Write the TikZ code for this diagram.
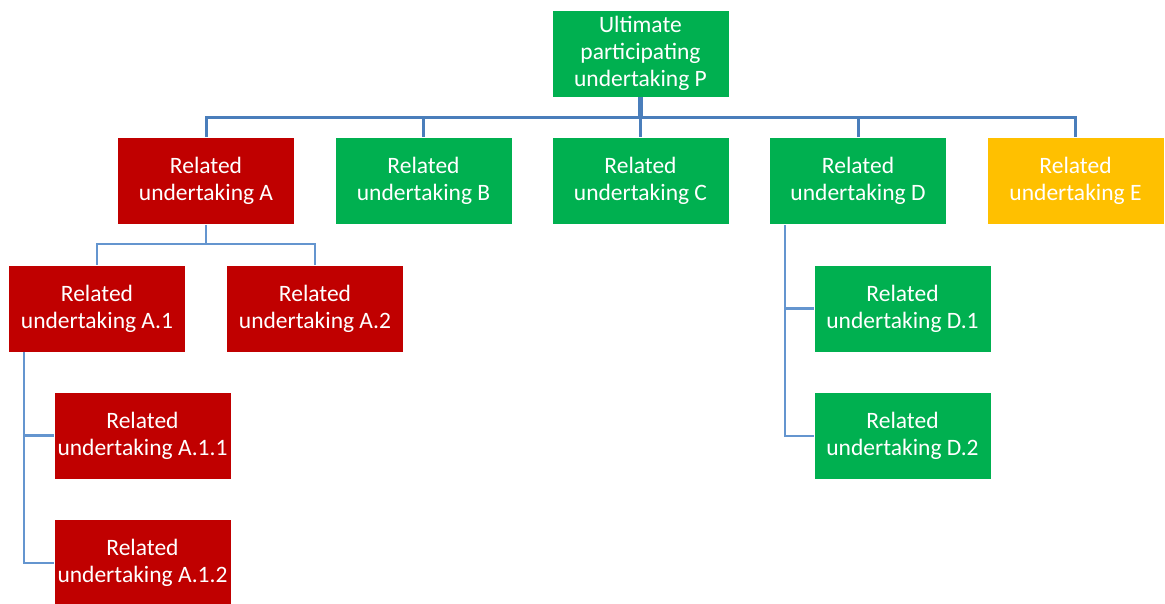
\documentclass[tikz,border=0pt]{standalone}
\usepackage{fontspec}
\setmainfont{Carlito}
\definecolor{bgreen}{HTML}{00B050}
\definecolor{bred}{HTML}{C00000}
\definecolor{byellow}{HTML}{FFC000}
\definecolor{lineA}{HTML}{4A7EBB}
\definecolor{lineB}{HTML}{6495CF}
\begin{document}
\begin{tikzpicture}[x=1pt,y=-1pt,
  box/.style={minimum width=177pt,minimum height=87pt,inner sep=0pt,align=center,text=white,
    draw=white,line width=0.6pt,font=\fontsize{23.5}{27}\selectfont},
  gbox/.style={box,fill=bgreen},
  rbox/.style={box,fill=bred},
  ybox/.style={box,fill=byellow},
  topline/.style={draw=lineA,line width=3pt},
  subline/.style={draw=lineB,line width=2.5pt}]
\useasboundingbox (0,0) rectangle (1165,603);
\node[gbox] (P) at (640.5,53.5) {Ultimate\\participating\\undertaking P};
\node[rbox] (A) at (206,181) {Related\\undertaking A};
\node[gbox] (B) at (423.5,181) {Related\\undertaking B};
\node[gbox] (C) at (640.5,181) {Related\\undertaking C};
\node[gbox] (D) at (858,181) {Related\\undertaking D};
\node[ybox] (E) at (1075.5,181) {Related\\undertaking E};
\node[rbox] (A1) at (97,308.5) {Related\\undertaking A.1};
\node[rbox] (A2) at (315,308.5) {Related\\undertaking A.2};
\node[rbox] (A11) at (142.5,435.5) {Related\\undertaking A.1.1};
\node[rbox] (A12) at (142.5,563) {Related\\undertaking A.1.2};
\node[gbox] (D1) at (902.5,308.5) {Related\\undertaking D.1};
\node[gbox] (D2) at (902.5,436) {Related\\undertaking D.2};
% top level
\coordinate (bus) at (640,117);
\draw[draw=lineA,line width=4.5pt] (P.south) -- (P.south |- bus);
\draw[topline] (A.north) -- (A.north |- bus) -| (E.north);
\draw[topline] (B.north) -- (B.north |- bus);
\draw[topline] (C.north) -- (C.north |- bus);
\draw[topline] (D.north) -- (D.north |- bus);
% A children
\coordinate (abus) at (206,244);
\draw[subline] (A.south) -- (A.south |- abus);
\draw[subline] (A1.north) -- (A1.north |- abus) -| (A2.north);
% A.1 children
\coordinate (ar) at ([xshift=16pt]A1.south west);
\draw[subline] (ar) |- (A12.west);
\draw[subline] (ar |- A11.west) -- (A11.west);
% D children
\coordinate (dr) at ([xshift=16pt]D.south west);
\draw[subline] (dr) |- (D2.west);
\draw[subline] (dr |- D1.west) -- (D1.west);
\end{tikzpicture}
\end{document}
